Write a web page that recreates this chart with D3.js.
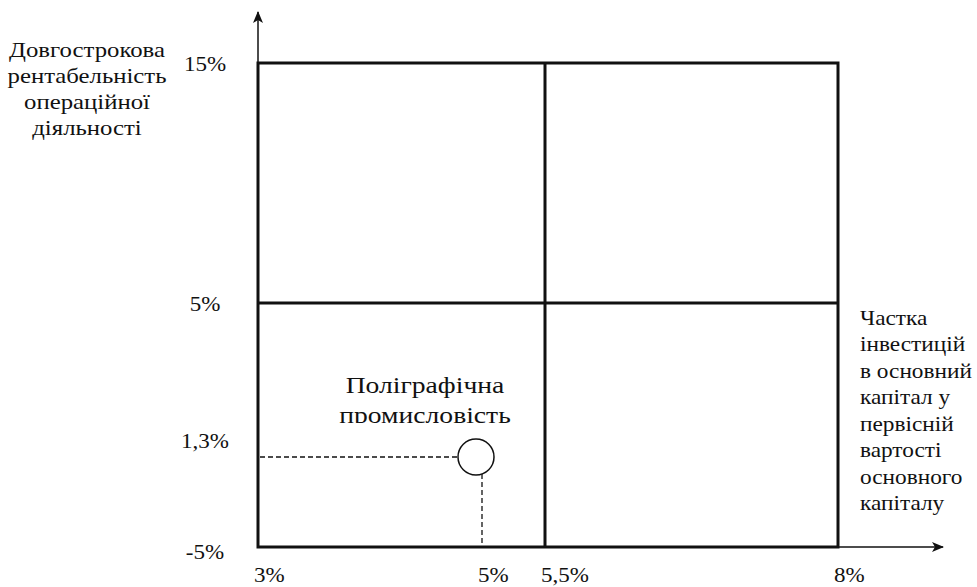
<!DOCTYPE html>
<html>
<head>
<meta charset="utf-8">
<script src="https://cdn.jsdelivr.net/npm/d3@7"></script>
<style>
  body { margin: 0; background: #fff; }
  svg { display: block; }
</style>
</head>
<body>
<div id="chart"></div>
<script>
// tick values (non-uniform spacing as in the original figure)
const xTicks = [3, 5, 5.5, 8];
const xTickLabels = ["3%", "5%", "5,5%", "8%"];
const yTicks = [-5, 1.3, 5, 15];
const yTickLabels = ["-5%", "1,3%", "5%", "15%"];

// quadrant dividers
const xSplit = 5.5;
const ySplit = 5;

// the industry point
const points = [{ name: ["Поліграфічна", "промисловість"], x: 5, y: 1.3 }];

const yTitle = ["Довгострокова", "рентабельність", "операційної", "діяльності"];
const xTitle = ["Частка", "інвестицій", "в основний", "капітал у", "первісній", "вартості", "основного", "капіталу"];

const width = 977, height = 587;
const FONT = "'Liberation Serif', 'DejaVu Serif', 'Noto Serif', serif";
const SX = 1.15; // the source figure is stretched horizontally

const svg = d3.select("#chart").append("svg")
    .attr("width", width)
    .attr("height", height)
    .attr("font-family", FONT)
    .style("font-family", FONT);

// piecewise scales: tick positions in the figure are not proportional
const x = d3.scaleLinear().domain(xTicks).range([258, 482, 545, 838]);
const y = d3.scaleLinear().domain(yTicks).range([547, 457, 303, 63]);

// text anchored at (tx, ty), stretched horizontally by sx
function stretched(parent, tx, ty, sx) {
    return parent.append("g")
        .attr("transform", `translate(${tx},${ty}) scale(${sx},1)`)
        .append("text")
        .attr("fill", "#111");
}

const defs = svg.append("defs");
defs.append("marker")
    .attr("id", "arrow")
    .attr("viewBox", "0 0 12 10")
    .attr("refX", 11).attr("refY", 5)
    .attr("markerWidth", 12).attr("markerHeight", 10)
    .attr("markerUnits", "userSpaceOnUse")
    .attr("orient", "auto")
    .append("path")
    .attr("d", "M0,0 L12,5 L0,10 L3,5 Z")
    .attr("fill", "#111");

// axes with arrows
svg.append("line")
    .attr("x1", x(3)).attr("y1", y(-5))
    .attr("x2", 943).attr("y2", y(-5))
    .attr("stroke", "#111").attr("stroke-width", 1.5)
    .attr("marker-end", "url(#arrow)");
svg.append("line")
    .attr("x1", x(3)).attr("y1", y(-5))
    .attr("x2", x(3)).attr("y2", 12)
    .attr("stroke", "#111").attr("stroke-width", 1.5)
    .attr("marker-end", "url(#arrow)");

// matrix frame
const frame = svg.append("g")
    .attr("fill", "none")
    .attr("stroke", "#111")
    .attr("stroke-width", 3);
frame.append("rect")
    .attr("x", x(3)).attr("y", y(15))
    .attr("width", x(8) - x(3))
    .attr("height", y(-5) - y(15));
frame.append("line")
    .attr("x1", x(xSplit)).attr("x2", x(xSplit))
    .attr("y1", y(15)).attr("y2", y(-5));
frame.append("line")
    .attr("x1", x(3)).attr("x2", x(8))
    .attr("y1", y(ySplit)).attr("y2", y(ySplit));

// tick labels
xTicks.forEach((d, i) => {
    stretched(svg, x(d) - 4, 582, SX)
        .attr("font-size", 20)
        .text(xTickLabels[i]);
});
yTicks.forEach((d, i) => {
    const ty = d === 1.3 ? y(d) - 9 : y(d) + (d === -5 ? 12 : 8);
    stretched(svg, 205, ty, SX)
        .attr("text-anchor", "middle")
        .attr("font-size", 20)
        .text(yTickLabels[i]);
});

// axis titles
stretched(svg, 87, 57, 1.18)
    .attr("text-anchor", "middle")
    .attr("font-size", 21)
    .selectAll("tspan")
    .data(yTitle)
    .join("tspan")
    .attr("x", 0)
    .attr("dy", (d, i) => i === 0 ? 0 : 26)
    .text(d => d);

stretched(svg, 860, 325, 1.11)
    .attr("font-size", 21)
    .selectAll("tspan")
    .data(xTitle)
    .join("tspan")
    .attr("x", 0)
    .attr("dy", (d, i) => i === 0 ? 0 : 26.5)
    .text(d => d);

// point with dashed guides
const r = 18;
const cxOff = -6;
const pt = svg.append("g").selectAll("g")
    .data(points)
    .join("g");

pt.append("line")
    .attr("x1", x(3) + 2).attr("x2", d => x(d.x) + cxOff - r)
    .attr("y1", d => y(d.y)).attr("y2", d => y(d.y))
    .attr("stroke", "#111").attr("stroke-width", 1.3)
    .attr("stroke-dasharray", "5,3");
pt.append("line")
    .attr("x1", d => x(d.x)).attr("x2", d => x(d.x))
    .attr("y1", d => y(d.y) + r - 1).attr("y2", y(-5) - 2)
    .attr("stroke", "#111").attr("stroke-width", 1.3)
    .attr("stroke-dasharray", "5,3");
pt.append("circle")
    .attr("cx", d => x(d.x) + cxOff)
    .attr("cy", d => y(d.y))
    .attr("r", r)
    .attr("fill", "#fff")
    .attr("stroke", "#111")
    .attr("stroke-width", 1.5);

// label, its lower line cut off as in the source
defs.append("clipPath").attr("id", "lblclip")
    .append("rect")
    .attr("x", 300).attr("y", 360).attr("width", 260).attr("height", 63);

pt.each(function (d) {
    stretched(d3.select(this).append("g").attr("clip-path", "url(#lblclip)"),
            x(d.x) - 57, 393, SX)
        .attr("text-anchor", "middle")
        .attr("font-size", 24)
        .selectAll("tspan")
        .data(d.name)
        .join("tspan")
        .attr("x", 0)
        .attr("dy", (n, i) => i === 0 ? 0 : 30)
        .text(n => n);
});
</script>
</body>
</html>
